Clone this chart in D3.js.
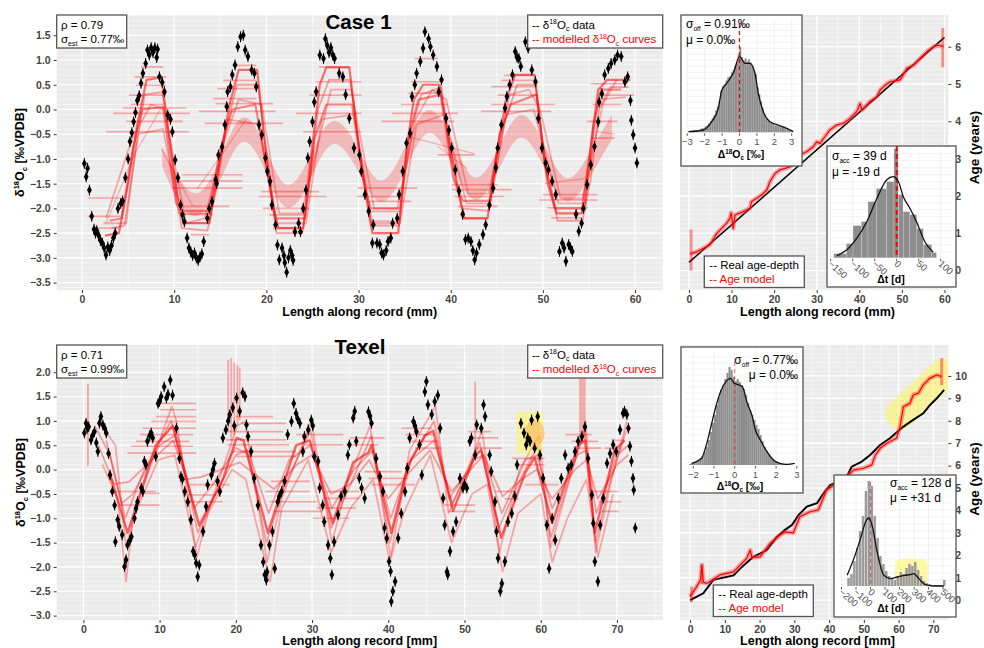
<!DOCTYPE html>
<html><head><meta charset="utf-8">
<script src="https://cdn.jsdelivr.net/npm/d3@7"></script>
<style>body{margin:0;background:#fff}svg{display:block}text{font-family:"Liberation Sans",Arial,sans-serif}</style>
</head><body><svg id="c" width="984" height="648"></svg>
<script>
// ================= DATA =================
// Case 1 : measured d18O (length mm, value permil)
const case1Points = [[0.25,-1.09],[0.45,-1.36],[0.6,-1.19],[0.8,-1.63],[1.05,-2.16],[1.3,-2.42],[1.45,-2.5],[1.6,-2.45],[1.8,-2.55],[2.0,-2.65],[2.2,-2.7],[2.4,-2.8],[2.6,-2.94],[2.8,-2.78],[3.0,-2.85],[3.2,-2.75],[3.4,-2.6],[3.6,-2.5],[3.9,-2.0],[4.2,-1.9],[4.4,-1.85],[4.7,-1.38],[5.0,-1.0],[5.2,-0.65],[5.4,-0.47],[5.6,-0.25],[5.8,-0.06],[6.0,0.18],[6.2,0.28],[6.4,0.53],[6.6,0.73],[6.9,0.93],[7.1,1.2],[7.3,1.1],[7.5,1.25],[7.7,1.15],[7.9,1.25],[8.1,1.05],[8.2,1.22],[8.4,0.66],[8.7,0.55],[8.95,0.36],[9.3,-0.11],[9.6,-0.2],[9.8,-0.45],[10.1,-1.02],[10.4,-1.38],[10.7,-1.93],[10.9,-2.13],[11.1,-2.27],[11.4,-2.6],[11.6,-2.8],[11.8,-2.88],[12.0,-2.95],[12.2,-2.9],[12.4,-3.0],[12.6,-3.05],[12.8,-2.98],[13.0,-2.92],[13.2,-2.67],[13.6,-2.2],[13.8,-2.0],[14.1,-1.86],[14.5,-1.42],[14.6,-1.5],[14.8,-0.92],[15.2,-0.76],[15.5,-0.31],[15.7,0.06],[15.8,0.36],[16.1,0.46],[16.3,0.7],[16.6,0.9],[16.9,1.27],[17.2,1.47],[17.5,1.5],[17.7,1.2],[18.0,1.07],[18.4,0.8],[18.7,0.73],[18.9,0.46],[19.2,-0.31],[19.5,-0.51],[19.9,-0.98],[20.1,-1.25],[20.4,-1.45],[20.6,-1.93],[21.0,-2.33],[21.2,-2.74],[21.4,-3.04],[21.7,-2.8],[21.9,-2.95],[22.0,-3.1],[22.2,-3.29],[22.4,-3.0],[22.6,-2.85],[22.8,-2.95],[22.9,-3.05],[23.1,-2.47],[23.5,-2.3],[23.7,-2.47],[24.0,-2.0],[24.3,-1.63],[24.5,-0.98],[24.7,-0.65],[25.0,-0.25],[25.2,0.15],[25.4,0.36],[25.8,1.1],[26.2,1.03],[26.4,1.43],[26.6,1.3],[26.8,1.15],[27.0,1.25],[27.2,1.1],[27.4,1.03],[27.9,0.73],[28.3,0.66],[28.6,0.3],[29.0,-0.18],[29.5,-0.78],[30.1,-0.92],[30.3,-1.25],[30.7,-1.72],[31.1,-2.06],[31.5,-2.7],[31.6,-2.33],[32.0,-2.7],[32.3,-2.73],[32.5,-2.9],[32.7,-2.94],[33.0,-2.85],[33.2,-2.67],[33.5,-2.6],[33.7,-2.3],[34.2,-2.2],[34.4,-1.72],[34.8,-1.25],[35.2,-0.68],[35.6,-0.48],[35.8,0.26],[36.1,0.5],[36.3,0.73],[36.7,0.97],[37.0,1.24],[37.2,1.57],[37.6,1.43],[37.8,1.27],[38.1,1.1],[38.5,0.87],[38.7,0.36],[39.0,0.6],[39.5,-0.18],[39.8,-0.42],[40.1,-0.78],[40.5,-1.22],[40.9,-1.65],[41.3,-2.12],[41.6,-2.63],[41.9,-2.6],[42.2,-2.67],[42.4,-2.85],[42.6,-3.04],[42.8,-2.9],[43.1,-2.73],[43.5,-2.53],[43.8,-2.33],[44.2,-1.93],[44.6,-1.59],[44.9,-1.18],[45.1,-0.78],[45.5,-0.31],[45.9,0.03],[46.1,0.26],[46.4,0.5],[46.7,0.7],[47.0,1.17],[47.2,1.05],[47.4,1.03],[47.6,0.87],[48.1,1.37],[48.4,1.24],[48.8,0.8],[49.2,0.56],[49.5,-0.18],[49.9,-0.78],[50.3,-1.08],[50.6,-1.22],[51.0,-1.45],[51.4,-1.72],[51.8,-2.87],[52.1,-2.7],[52.3,-2.8],[52.5,-3.07],[52.8,-2.73],[53.0,-2.8],[53.2,-2.87],[53.6,-2.12],[53.9,-2.46],[54.2,-2.3],[54.4,-2.0],[54.8,-1.52],[55.2,-1.12],[55.6,-0.75],[56.0,-0.25],[56.1,0.15],[56.4,0.32],[56.7,0.7],[57.1,0.83],[57.4,0.93],[57.8,1.0],[58.1,1.1],[58.5,1.07],[58.9,0.56],[59.2,0.66],[59.5,0.18],[59.6,-0.22],[59.8,-0.51],[60.0,-0.78],[60.2,-1.08]];

// Case 1 : modelled curves
const case1CurveA = [[2.5,-2.55],[4.0,-2.5],[5.0,-1.5],[6.0,-0.3],[7.0,0.6],[8.6,0.65],[9.3,-0.3],[10.3,-1.7],[11.0,-2.3],[13.8,-2.3],[14.8,-1.2],[16.0,0.1],[17.0,0.8],[19.0,0.8],[19.8,-0.6],[20.8,-2.0],[21.3,-2.4],[24.0,-2.4],[24.8,-1.0],[25.8,0.5],[26.5,0.85],[29.0,0.85],[30.2,-1.0],[31.2,-2.2],[31.5,-2.5],[34.3,-2.5],[35.2,-0.8],[36.0,0.2],[37.0,0.5],[38.8,0.5],[39.8,-0.6],[41.0,-1.8],[41.5,-2.2],[44.0,-2.2],[45.0,-0.9],[46.0,0.2],[47.0,0.7],[49.1,0.7],[50.2,-1.1],[51.5,-2.1],[54.2,-2.1],[55.0,-1.0],[56.0,0.4],[57.0,0.6],[59.5,0.6]];
const case1CurveB = [[3.0,-2.25],[4.3,-2.2],[5.5,-0.8],[6.5,0.0],[8.8,0.05],[10.2,-1.9],[11.0,-2.05],[13.8,-2.05],[15.0,-0.8],[16.3,0.0],[18.8,0.1],[20.3,-1.5],[21.0,-2.2],[24.2,-2.2],[25.2,-0.6],[26.5,0.1],[29.3,0.1],[30.6,-1.5],[31.3,-2.0],[34.5,-2.0],[35.5,-0.5],[36.5,0.2],[38.9,0.3],[40.3,-1.4],[41.3,-1.85],[44.2,-1.85],[45.3,-0.5],[46.5,0.1],[49.3,0.3],[50.5,-1.5],[51.3,-2.0],[54.5,-2.0],[55.5,-0.3],[56.3,0.4],[58.5,0.4]];
const case1CurveC = [[2.3,-2.3],[4.8,-2.3],[6.0,-0.5],[8.8,-0.4],[10.5,-2.1],[13.9,-2.1],[15.8,-0.2],[19.2,-0.3],[21.0,-2.3],[24.3,-2.3],[26.0,-0.2],[29.5,-0.1],[31.5,-2.3],[34.5,-2.3],[36.3,-0.3],[39.3,-0.1],[41.7,-1.9],[44.3,-1.9],[46.0,-0.1],[49.0,0.0],[51.7,-1.9],[54.6,-1.9],[56.0,0.2],[59.0,0.25]];
const case1CurveD = [[2.6,-2.2],[5.4,-0.6],[7.5,0.1],[8.9,0.0],[11.3,-2.3],[13.3,-2.2],[15.5,-0.6],[17.0,0.2],[19.5,0.1],[21.4,-2.1],[23.8,-2.1],[25.5,-0.8],[27.0,0.4],[29.2,0.4],[31.7,-2.0],[34.2,-2.0],[36.2,-0.2],[38.0,0.4],[39.5,0.2],[41.9,-1.7],[44.1,-1.7],[46.4,0.3],[48.5,0.4],[49.7,0.0],[51.9,-1.8],[54.3,-1.8],[56.5,0.1],[58.0,0.6]];
const case1CurveE = [[3.2,-2.4],[4.6,-2.35],[5.6,-1.1],[6.8,0.3],[8.7,0.35],[9.9,-1.2],[10.8,-2.4],[13.6,-2.45],[14.6,-1.6],[15.6,-0.4],[16.8,0.5],[19.1,0.5],[20.1,-1.1],[21.1,-2.5],[23.9,-2.5],[24.6,-1.6],[25.6,0.0],[26.8,0.6],[29.1,0.6],[30.4,-1.2],[31.4,-2.35],[34.4,-2.35],[35.0,-1.4],[35.9,-0.3],[36.8,0.3],[39.0,0.45],[40.0,-1.0],[41.2,-2.0],[44.1,-2.05],[44.8,-1.3],[45.8,-0.3],[47.2,0.5],[49.2,0.5],[50.4,-1.3],[51.6,-2.25],[54.3,-2.25],[55.2,-1.4],[56.1,0.0],[57.3,0.45],[59.3,0.45]];
const case1Faint = [[[8.6,-0.8],[12.0,-1.95]],[[35.4,-0.55],[42.6,-0.9]],[[38.6,-0.75],[41.8,-1.2]],[[50.2,-1.5],[54.5,-1.4]],[[55.8,-0.45],[57.8,-0.5]],[[2.6,-2.3],[5.7,-0.9],[8.5,0.0]],[[12.5,-1.6],[15.2,-0.9],[17.8,-0.2]]];
// shaded ribbon (x, upper, lower)
const case1RibbonX  = [8.7,10.5,12.5,14.5,17.2,19.5,22.0,24.5,27.0,29.7,32.3,35.0,37.5,40.0,42.5,45.0,47.5,50.0,52.5,55.0,57.5];
const case1RibbonHi = [-0.75,-1.45,-1.85,-1.3,0.15,-0.5,-1.85,-1.1,0.05,-0.6,-1.8,-0.8,0.3,-0.5,-1.7,-0.9,0.2,-0.6,-1.7,-0.9,-0.1];
const case1RibbonLo = [-1.15,-1.95,-2.3,-1.75,-0.35,-1.0,-2.3,-1.6,-0.4,-1.1,-2.2,-1.3,-0.15,-1.0,-2.15,-1.35,-0.25,-1.1,-2.15,-1.4,-0.6];
// horizontal uncertainty segments [x1, x2, value]
const case1Segs = [[0.6,4.2,-1.79],[0.6,4.2,-2.16],[1.2,4.0,-2.4],[2.6,11.6,-0.45],[3.4,11.7,-0.08],[4.4,11.3,0.03],[4.8,10.9,-0.24],[5.1,9.1,0.29],[5.7,9.1,0.66],[5.85,9.1,0.49],[6.4,8.8,0.86],[5.3,8.8,0.1],[10.9,17.4,-1.32],[10.2,17.4,-1.45],[9.7,17.4,-1.59],[10.9,16.0,-1.96],[10.9,14.2,-2.12],[11.1,13.8,-2.29],[11.8,13.8,-2.53],[13.3,21.8,-0.28],[12.7,21.0,-0.04],[14.5,20.7,0.12],[14.2,18.9,0.22],[14.7,18.9,0.42],[15.3,18.9,0.59],[16.3,18.9,0.89],[19.2,26.5,-1.76],[19.4,25.7,-1.66],[19.6,24.7,-2.0],[20.3,24.3,-2.13],[20.7,23.2,-2.4],[23.2,30.3,-0.08],[24.0,30.3,-0.45],[24.7,30.3,0.29],[25.4,30.3,0.56],[25.7,29.0,0.86],[29.9,36.4,-1.59],[29.9,34.6,-1.76],[31.0,35.7,-1.86],[31.4,34.6,-2.06],[31.4,34.3,-2.26],[32.5,40.4,-0.24],[33.6,40.8,-0.08],[34.6,39.7,0.1],[35.4,39.0,0.33],[35.7,39.0,0.56],[36.1,38.6,1.03],[38.6,42.6,-0.92],[40.1,45.1,-1.52],[40.1,46.6,-1.62],[40.4,45.8,-1.76],[40.8,45.1,-1.96],[41.2,44.0,-2.19],[43.3,50.9,-0.04],[44.4,51.3,0.1],[45.1,49.4,0.29],[44.4,49.4,0.46],[45.5,49.1,0.59],[45.8,49.1,0.69],[49.6,55.9,-1.83],[50.0,55.9,-1.72],[50.5,54.9,-1.99],[50.9,54.2,-2.19],[55.2,59.2,0.52],[55.9,59.9,0.29],[55.4,58.5,0.1],[54.8,58.1,-0.24],[55.2,57.8,-0.58]];

// Texel : measured d18O
const texelPoints = [[0.13,0.75],[0.35,0.95],[0.5,0.85],[0.7,0.88],[1.0,0.61],[1.2,0.7],[1.45,0.78],[1.7,0.55],[1.9,0.37],[2.1,0.95],[2.3,1.09],[2.55,0.92],[2.8,0.85],[3.0,0.75],[3.3,0.33],[3.5,-0.11],[3.8,-0.45],[4.1,-0.73],[4.2,-1.48],[4.5,-1.03],[4.7,-1.17],[5.1,-1.34],[5.4,-1.99],[5.6,-1.85],[5.8,-1.55],[6.1,-1.45],[6.3,-1.38],[6.7,-1.0],[6.9,-0.8],[7.1,-0.66],[7.6,-0.38],[7.8,-0.45],[8.0,0.17],[8.2,0.1],[8.4,0.58],[8.7,0.7],[8.9,0.75],[9.1,0.65],[9.5,0.27],[9.8,1.36],[10.0,1.4],[10.2,1.5],[10.6,1.7],[10.9,1.47],[11.1,1.55],[11.4,1.84],[11.7,1.53],[12.2,0.85],[12.6,0.23],[12.8,-0.14],[13.0,-0.2],[13.3,-0.45],[13.7,-0.66],[14.1,-1.03],[14.4,-1.68],[14.6,-1.75],[14.8,-1.92],[15.0,-2.2],[15.2,-1.96],[15.7,-1.27],[16.1,-0.76],[16.3,-0.31],[16.8,-0.11],[17.0,0.0],[17.2,0.13],[17.6,-0.24],[17.9,-0.45],[18.3,0.65],[18.7,0.82],[19.0,1.0],[19.2,1.13],[19.6,1.27],[19.8,0.9],[20.1,1.47],[20.5,1.2],[20.9,1.58],[21.2,1.5],[21.4,0.92],[21.6,0.68],[22.0,0.37],[22.4,-0.18],[22.9,-0.73],[23.3,-1.55],[23.6,-1.9],[23.8,-2.16],[24.0,-2.27],[24.1,-2.1],[24.4,-1.55],[24.8,-1.27],[25.1,-2.03],[25.5,-0.66],[25.7,-0.55],[26.0,-0.45],[26.4,-0.24],[26.8,0.72],[27.3,0.99],[27.6,1.36],[27.9,1.16],[28.1,1.05],[28.4,0.95],[28.8,0.37],[29.0,0.68],[29.5,0.82],[29.9,1.02],[30.1,0.9],[30.3,0.27],[30.8,0.17],[31.0,-0.38],[31.4,-0.73],[31.6,-1.07],[32.1,-1.55],[32.4,-1.82],[32.6,-2.16],[32.9,-1.48],[33.4,-0.93],[33.8,-0.55],[34.3,-0.45],[34.7,0.3],[34.9,0.51],[35.4,1.06],[35.6,1.2],[35.8,0.58],[36.2,-0.18],[36.5,-0.38],[36.9,-0.59],[37.4,1.19],[37.6,1.1],[37.8,0.95],[38.4,0.23],[38.9,-0.14],[39.3,-0.45],[39.5,-1.2],[39.8,-1.41],[40.1,-1.89],[40.3,-2.09],[40.4,-2.71],[40.6,-2.5],[40.9,-2.3],[41.3,-1.41],[41.7,-0.9],[42.2,-0.45],[42.5,0.03],[42.8,0.65],[43.3,0.99],[43.5,0.9],[43.7,0.78],[44.1,0.51],[44.4,-0.11],[44.8,1.6],[45.0,1.81],[45.2,1.33],[45.7,1.13],[46.1,1.4],[46.5,1.53],[46.8,0.85],[47.2,-0.59],[47.4,-1.14],[47.7,-2.1],[47.8,-2.16],[48.1,-1.68],[48.5,-1.27],[48.9,-1.07],[49.4,-0.18],[49.8,-0.38],[50.0,-0.3],[50.3,-0.38],[50.7,0.58],[50.9,0.65],[51.4,0.3],[51.6,0.92],[52.2,0.85],[52.5,1.33],[52.7,1.09],[53.3,0.3],[53.5,-0.04],[54.0,-0.66],[54.2,-1.27],[54.4,-1.82],[54.7,-2.5],[54.9,-2.34],[55.3,-1.89],[55.7,-1.07],[56.2,-0.9],[56.6,-0.55],[56.9,0.1],[57.4,0.95],[57.8,0.75],[58.1,0.51],[58.3,0.65],[58.6,0.58],[58.8,1.02],[59.2,0.44],[59.6,1.09],[59.9,0.3],[60.3,-0.18],[60.8,-1.14],[61.1,-2.03],[61.5,-1.0],[61.9,-1.45],[62.3,-0.59],[62.7,-0.18],[63.2,0.3],[63.6,0.03],[64.0,0.1],[64.5,0.37],[64.9,0.58],[65.4,0.68],[65.8,0.88],[66.2,0.23],[66.7,-0.52],[66.9,-1.1],[67.1,-1.89],[67.5,-2.3],[67.8,-1.14],[68.2,-0.59],[68.7,0.13],[69.1,0.33],[69.5,0.51],[69.9,0.37],[70.4,0.82],[70.8,1.16],[71.0,1.2],[71.3,1.13],[71.5,0.85],[71.7,0.48],[71.9,0.17],[72.1,-0.18],[72.2,-0.42],[72.4,-1.2]];
// Texel : modelled curves
const texelCurveMain = [[3.4,-0.05],[5.8,-1.3],[9.5,0.5],[11.7,0.9],[15.2,-1.15],[18.3,-0.2],[20.1,0.65],[21.0,0.6],[24.2,-1.3],[27.9,0.5],[29.7,0.6],[32.7,-1.1],[35.4,0.15],[37.4,0.35],[37.8,0.5],[40.4,-1.3],[42.6,0.1],[44.8,0.7],[45.9,0.8],[48.5,-0.85],[51.4,0.3],[52.2,0.4],[54.8,-1.4],[58.0,-0.05],[59.2,0.25],[61.5,-1.1],[64.9,0.5],[65.8,0.6],[67.1,-1.3],[69.7,0.4],[71.0,0.6]];
const texelCurveFlat = [[2.0,0.5],[4.0,-0.3],[6.0,-0.25],[9.0,0.2],[11.8,0.6],[13.5,-0.2],[15.5,-0.15],[18.0,0.0],[20.5,0.15],[22.5,-0.1],[25.0,-0.4],[28.0,0.1],[30.0,0.3],[32.5,-0.5],[35.0,-0.3],[37.5,0.2],[40.0,-0.6],[42.5,-0.1],[45.5,0.4],[48.3,-0.45],[50.8,0.0],[52.5,0.3],[55.0,-0.55],[57.5,-0.2],[59.5,0.0],[61.5,-0.6],[64.5,0.0],[66.0,0.2],[67.5,-0.6],[70.0,0.1],[71.5,0.3]];
const texelCurveMid = [[1.5,0.9],[3.5,0.3],[5.5,-1.0],[8.0,0.0],[11.5,1.0],[12.5,0.6],[15.0,-1.3],[17.0,-0.6],[20.0,0.3],[21.5,0.4],[24.0,-1.5],[26.5,-0.3],[29.8,0.8],[32.5,-1.2],[34.5,-0.5],[37.8,0.7],[40.2,-1.5],[43.0,0.2],[46.0,1.0],[48.0,-0.6],[50.5,0.0],[52.0,0.55],[54.5,-1.2],[57.0,-0.3],[59.6,0.5],[61.3,-1.4],[63.5,-0.3],[65.8,0.8],[67.2,-1.5],[69.0,-0.3],[71.2,0.8]];
const texelCurveMid2 = [[3.0,0.6],[5.0,-0.7],[6.5,-0.5],[10.0,0.5],[12.0,0.7],[14.5,-0.8],[17.0,-0.3],[20.0,0.45],[21.8,0.3],[24.3,-0.9],[27.0,0.2],[29.8,0.5],[32.6,-0.8],[35.5,0.0],[38.0,0.4],[40.3,-1.0],[43.0,0.2],[46.0,0.6],[48.4,-0.7],[51.2,0.2],[52.5,0.3],[54.9,-0.9],[58.0,0.2],[59.5,0.3],[61.5,-0.8],[64.8,0.3],[66.0,0.4],[67.3,-0.9],[70.0,0.3],[71.5,0.5]];
const texelCurveHigh = [[2.0,1.0],[4.2,0.5],[5.6,-1.6],[7.5,-0.5],[11.6,1.3],[12.2,1.0],[14.9,-1.8],[16.5,-0.8],[20.2,0.9],[21.2,1.0],[24.1,-1.9],[26.0,-0.6],[29.9,1.0],[32.6,-1.5],[34.8,-0.2],[37.6,0.9],[40.3,-1.8],[42.8,0.4],[46.2,1.3],[47.9,-0.9],[50.9,0.2],[52.3,0.8],[54.6,-1.7],[57.2,0.0],[59.8,0.7],[61.3,-1.6],[63.8,-0.2],[65.9,1.0],[67.2,-1.7],[69.3,-0.2],[71.3,1.0]];
const texelCurveLow = [[2.5,0.1],[4.5,-0.6],[5.6,-2.3],[6.5,-1.0],[9.8,0.2],[12.0,0.3],[14.7,-1.6],[16.0,-1.0],[19.5,0.0],[21.3,-0.2],[24.5,-2.3],[26.0,-0.8],[29.5,0.2],[32.5,-1.7],[35.0,-0.8],[38.0,-0.2],[40.2,-1.9],[42.0,-0.9],[45.5,0.3],[48.3,-1.5],[51.0,-0.5],[53.0,-0.3],[55.0,-2.1],[57.0,-0.9],[60.0,-0.5],[61.5,-1.9],[63.5,-1.0],[66.0,-0.2],[67.5,-1.8],[69.5,-0.5]];
const texelSegs = [[5.8,14.8,0.34],[6.3,14.4,0.48],[6.9,13.9,0.58],[7.4,14.4,0.72],[7.8,14.8,0.85],[8.9,14.8,0.99],[9.5,14.8,1.09],[10.0,14.8,1.23],[10.2,14.8,1.36],[7.4,10.0,-0.49],[3.4,9.5,-0.45],[4.7,10.0,-0.73],[18.3,26.2,0.78],[18.7,26.6,0.61],[18.9,27.0,0.51],[19.6,27.9,0.37],[20.0,27.9,0.27],[20.7,26.6,0.95],[20.0,24.9,1.09],[13.0,17.4,-0.52],[13.5,18.3,-0.66],[13.9,19.2,-0.31],[23.9,29.7,-0.45],[24.4,30.6,-0.66],[24.9,31.4,-0.86],[24.6,29.7,-0.24],[30.1,34.9,-1.0],[30.6,35.8,-0.79],[31.4,36.2,-0.59],[31.9,36.2,-0.45],[27.9,34.1,0.72],[28.8,34.1,0.51],[34.5,38.7,0.51],[35.0,39.5,0.65],[36.9,41.7,-0.04],[37.4,42.6,-0.18],[37.8,43.5,-0.31],[41.7,45.7,0.85],[42.2,46.1,0.72],[42.8,46.5,0.58],[43.5,47.0,0.44],[47.2,51.4,-0.73],[47.9,51.4,-0.86],[50.5,53.5,0.78],[50.9,54.4,0.65],[51.4,54.9,0.44],[54.0,56.6,-0.45],[55.3,57.1,-0.6],[56.2,60.5,0.23],[57.1,60.5,0.1],[57.9,62.3,-0.31],[63.2,66.7,0.72],[64.0,67.5,0.58],[64.5,67.9,0.44],[66.7,70.2,-0.45],[67.6,70.6,-0.66],[68.0,70.2,-0.86],[68.4,70.6,0.44],[69.3,71.0,0.6]];
const texelSpikes = [[0.6,0.08,1.76],[19.0,0.8,2.25],[19.4,0.6,2.29],[19.8,0.7,2.2],[20.2,0.9,2.15],[20.5,1.0,2.1],[51.4,0.3,1.81]];
const texelBlock = [65.0,65.9,0.6,1.9];
const texelHighlight = [56.8,60.3,0.33,1.19];

// Age-depth models
const case1RealAge = [[0,0.22],[60,6.25]];
const case1AgeModel = [[0.3,0.45],[2.0,0.51],[4.9,0.69],[6.5,0.99],[8.85,1.27],[9.6,1.4],[9.9,1.55],[10.4,1.13],[10.8,1.49],[12.8,1.58],[14.3,1.67],[14.7,1.85],[17.1,2.03],[18.3,2.16],[19.0,2.38],[20.2,2.6],[21.4,2.7],[23.7,2.78],[24.9,3.0],[26.1,3.1],[27.7,3.19],[29.2,3.32],[30.0,3.45],[30.8,3.41],[31.6,3.54],[33.1,3.77],[34.7,3.9],[36.3,3.95],[37.8,4.08],[39.4,4.26],[40.2,4.48],[40.6,4.3],[42.5,4.53],[44.1,4.66],[44.9,4.84],[46.1,4.97],[47.2,5.06],[49.6,5.11],[51.2,5.42],[52.8,5.51],[54.3,5.69],[55.9,5.87],[57.4,6.0],[58.6,6.04],[59.8,6.0]];
const case1Fans = [[0.5,0.0,1.1],[59.6,5.45,6.5]];
const texelRealAge = [[0,0],[3.8,0.3],[6.7,0.9],[12.5,1.1],[14.9,1.48],[18.2,1.93],[22.1,2.23],[24.9,2.8],[27.3,3.13],[29.3,3.35],[31.2,3.79],[33.6,4.17],[36.5,4.32],[38.4,4.76],[40.3,5.13],[42.7,5.28],[45.1,5.5],[46.5,5.95],[49.4,6.18],[51.8,6.47],[54.7,6.92],[57.5,7.22],[61.4,7.74],[64.2,8.04],[67.1,8.33],[69.0,8.7],[71.0,9.0],[73.1,9.38]];
const texelAgeModel = [[0,0.15],[1.9,0.6],[3.0,0.9],[3.4,1.56],[3.8,0.8],[4.8,0.74],[8.6,1.12],[12.5,1.26],[16.3,1.86],[17.3,2.23],[17.8,1.9],[20.1,1.93],[23.0,2.52],[25.9,2.9],[27.3,3.04],[29.7,3.0],[31.6,3.72],[34.5,3.94],[36.9,4.02],[39.3,4.91],[42.2,5.21],[45.1,5.5],[47.0,5.8],[49.9,5.88],[52.3,6.03],[53.3,6.47],[54.7,6.77],[56.6,7.0],[59.4,7.22],[60.4,7.74],[61.4,8.63],[63.3,8.78],[64.2,9.15],[65.7,9.23],[67.1,9.6],[69.0,9.9],[71.0,10.04],[72.4,9.97]];
const texelFans = [[0.4,-0.1,0.6],[3.4,0.7,1.6],[72.4,9.6,10.8]];
const texelAgeHighlight = [[60.5,8.3],[73,10.1]];

// Histograms
const c1OffStart = -3.0, c1OffBin = 0.1;
const c1OffCounts = [0,1,1,1,2,2,2,3,4,4,6,7,9,11,14,17,22,26,32,41,46,48,52,55,56,60,62,66,70,78,85,75,72,74,71,73,70,66,62,58,45,38,31,24,18,14,12,10,9,8,7,7,7,6,6,5,4,3,2,1];
const c1OffDensity = [[-2.94,0.6],[-2.08,2.3],[-1.6,10.6],[-1.22,24],[-1.02,42],[-0.74,49],[-0.36,59],[0,75.6],[0.32,69],[0.6,69],[0.89,59],[1.08,39],[1.37,20.6],[1.75,10.6],[2.23,7.3],[2.71,4],[3.09,0.6]];
const c1AccEdges = [-143,-114,-99,-80,-65,-46,-23,-6,4,15,30,46,61,80,91];
const c1AccCounts = [4,14,32,36,56,69,76,109,63,46,43,29,13,5];
const c1AccDensity = [[-136,2],[-114,7.7],[-91,19.4],[-68,36],[-45,59.4],[-23,77.7],[-8,81],[4,76],[15,61],[30,49.4],[45,36],[64,16],[83,5.4]];
const txOffStart = -2.3, txOffBin = 0.1;
const txOffCounts = [0,1,2,3,4,5,7,9,13,18,25,33,42,50,60,68,75,80,86,92,98,95,88,84,86,83,80,76,70,62,55,50,45,40,36,30,24,18,14,11,8,6,4,3,2,2,1,1,1,1,0,0];
const txOffDensity = [[-2.08,1.7],[-1.6,6.7],[-1.37,20],[-1.13,40],[-0.89,60],[-0.65,75],[-0.42,83.3],[-0.21,86.7],[-0.02,81.7],[0.21,80],[0.37,78.3],[0.61,61.7],[0.85,48.3],[1.0,35],[1.24,25],[1.56,13.3],[1.87,5],[2.19,1.7],[2.51,0.7],[2.9,1.7]];
const txAccStart = -160, txAccBin = 20;
const txAccCounts = [8,12,25,38,55,70,95,105,100,70,48,30,22,15,10,8,6,10,14,12,18,22,20,24,16,10,5,3,2,1,1,1,1,6];
const txAccDensity = [[-161,10.7],[-115,27.4],[-69,47.4],[-34,64],[-12,68],[12,60],[46,34],[92,10.7],[138,7.4],[184,9],[230,10.7],[276,11.4],[299,12.4],[333,7.4],[379,1.3],[437,0],[506,0]];
const txAccHighlight = [170,395];

// tick values
const c1XTicks = [0,10,20,30,40,50,60], c1YTicks = [-3.5,-3,-2.5,-2,-1.5,-1,-0.5,0,0.5,1,1.5];
const txXTicks = [0,10,20,30,40,50,60,70], txYTicks = [-3,-2.5,-2,-1.5,-1,-0.5,0,0.5,1,1.5,2];
const c1AgeTicks = [0,1,2,3,4,5,6], txAgeTicks = [0,1,2,3,4,5,6,7,8,9,10];

// ================= DRAWING =================
const svg = d3.select("#c");
const defs = svg.append("defs");
let clipN = 0;
const RED = "#ff0000";

function rich(g, x, y, parts, size, opts = {}) {
  const t = g.append("text").attr("x", x).attr("y", y).attr("font-size", size)
    .attr("font-weight", opts.weight || "normal").attr("fill", opts.fill || "#000")
    .attr("text-anchor", opts.anchor || "start");
  if (opts.rotate) t.attr("transform", `rotate(${opts.rotate},${x},${y})`);
  let cur = 0;
  parts.forEach(p => {
    const [s, k] = typeof p === "string" ? [p, "n"] : p;
    const target = k === "sup" ? -size * 0.38 : k === "sub" ? size * 0.22 : 0;
    const ts = t.append("tspan").text(s).attr("dy", target - cur);
    if (k !== "n") ts.attr("font-size", size * (opts.small || 0.6));
    cur = target;
  });
  return t;
}

function panel(c) {
  const x = d3.scaleLinear().domain(c.xd).range([c.x0, c.x1]);
  const y = d3.scaleLinear().domain(c.yd).range([c.y1, c.y0]);
  const g = svg.append("g");
  const id = "clip" + (clipN++);
  defs.append("clipPath").attr("id", id).append("rect")
    .attr("x", c.x0).attr("y", c.y0).attr("width", c.x1 - c.x0).attr("height", c.y1 - c.y0);
  g.append("rect").attr("x", c.x0).attr("y", c.y0).attr("width", c.x1 - c.x0).attr("height", c.y1 - c.y0).attr("fill", "#ebebeb");
  const grid = g.append("g").attr("clip-path", `url(#${id})`);
  d3.range(c.yd[0] - c.yd[0] % c.dense, c.yd[1], c.dense).forEach(v =>
    grid.append("line").attr("x1", c.x0).attr("x2", c.x1).attr("y1", y(v)).attr("y2", y(v)).attr("stroke", "#fff").attr("stroke-width", 0.6).attr("opacity", 0.75));
  c.xMinor.forEach(v => grid.append("line").attr("x1", x(v)).attr("x2", x(v)).attr("y1", c.y0).attr("y2", c.y1).attr("stroke", "#fff").attr("stroke-width", 0.6));
  c.xTicks.forEach(v => grid.append("line").attr("x1", x(v)).attr("x2", x(v)).attr("y1", c.y0).attr("y2", c.y1).attr("stroke", "#fff").attr("stroke-width", 1.2));
  c.yTicks.forEach(v => grid.append("line").attr("x1", c.x0).attr("x2", c.x1).attr("y1", y(v)).attr("y2", y(v)).attr("stroke", "#fff").attr("stroke-width", 1.2));
  const plot = g.append("g").attr("clip-path", `url(#${id})`);
  const ax = g.append("g").attr("transform", `translate(0,${c.y1})`)
    .call(d3.axisBottom(x).tickValues(c.xTicks).tickSize(3).tickPadding(3).tickFormat(d3.format("d")));
  const ay = c.yRight
    ? g.append("g").attr("transform", `translate(${c.x1},0)`).call(d3.axisRight(y).tickValues(c.yTicks).tickSize(3).tickPadding(4).tickFormat(d3.format("d")))
    : g.append("g").attr("transform", `translate(${c.x0},0)`).call(d3.axisLeft(y).tickValues(c.yTicks).tickSize(3).tickPadding(3).tickFormat(d3.format(".1f")));
  [ax, ay].forEach(a => {
    a.attr("font-family", null).attr("font-size", null);
    a.select(".domain").remove();
    a.selectAll(".tick line").attr("stroke", "#333");
    a.selectAll(".tick text").attr("fill", "#444").attr("font-weight", "bold").attr("font-size", 10.5);
  });
  return { x, y, g, plot };
}

function drawPoints(p, data) {
  const gp = p.plot.append("g");
  data.forEach(([a, v]) => {
    const px = p.x(a), py = p.y(v);
    gp.append("line").attr("x1", px).attr("x2", px).attr("y1", p.y(v + 0.11)).attr("y2", p.y(v - 0.11)).attr("stroke", "#000").attr("stroke-width", 1);
    gp.append("path").attr("d", `M${px},${py - 4.5}L${px + 2.4},${py}L${px},${py + 4.5}L${px - 2.4},${py}Z`).attr("fill", "#000");
  });
}
function drawCurve(p, data, op, w) {
  p.plot.append("path").datum(data).attr("d", d3.line().x(d => p.x(d[0])).y(d => p.y(d[1])))
    .attr("fill", "none").attr("stroke", RED).attr("stroke-opacity", op).attr("stroke-width", w).attr("stroke-linejoin", "round");
}
function drawSegs(p, segs, op) {
  segs.forEach(([a, b, v]) => p.plot.append("line").attr("x1", p.x(a)).attr("x2", p.x(b)).attr("y1", p.y(v)).attr("y2", p.y(v))
    .attr("stroke", RED).attr("stroke-opacity", op).attr("stroke-width", 1.7));
}
function box(g, x, y, w, h) {
  g.append("rect").attr("x", x).attr("y", y).attr("width", w).attr("height", h).attr("fill", "#fff").attr("stroke", "#555").attr("stroke-width", 1.3);
}

// ---------- Case 1 main ----------
const P1 = panel({ x0: 56.7, x1: 662.7, y0: 15, y1: 290, xd: [-2.75, 63.0], yd: [-3.65, 1.91], xTicks: c1XTicks, xMinor: [5,15,25,35,45,55], yTicks: c1YTicks, dense: 0.1 });
const ribbonData = case1RibbonX.map((v, i) => [v, case1RibbonHi[i], case1RibbonLo[i]]);
P1.plot.append("path").datum(ribbonData)
  .attr("d", d3.area().curve(d3.curveBasis).x(d => P1.x(d[0])).y0(d => P1.y(d[2])).y1(d => P1.y(d[1])))
  .attr("fill", RED).attr("fill-opacity", 0.22);
drawSegs(P1, case1Segs, 0.3);
case1Faint.forEach(c => drawCurve(P1, c, 0.25, 1.3));
drawCurve(P1, case1CurveC, 0.3, 1.8);
drawCurve(P1, case1CurveD, 0.3, 1.8);
drawCurve(P1, case1CurveE, 0.35, 1.8);
drawCurve(P1, case1CurveB, 0.45, 2.2);
drawCurve(P1, case1CurveA, 0.55, 2.2);
drawPoints(P1, case1Points);

// ---------- Texel main ----------
const P2 = panel({ x0: 56.7, x1: 662.7, y0: 345, y1: 620, xd: [-3.5, 76.0], yd: [-3.09, 2.56], xTicks: txXTicks, xMinor: [5,15,25,35,45,55,65,75], yTicks: txYTicks, dense: 0.1 });
texelSpikes.forEach(([a, lo, hi]) => P2.plot.append("line").attr("x1", P2.x(a)).attr("x2", P2.x(a)).attr("y1", P2.y(lo)).attr("y2", P2.y(hi)).attr("stroke", RED).attr("stroke-opacity", 0.3).attr("stroke-width", 1.8));
P2.plot.append("rect").attr("x", P2.x(texelBlock[0])).attr("width", P2.x(texelBlock[1]) - P2.x(texelBlock[0]))
  .attr("y", P2.y(texelBlock[3])).attr("height", P2.y(texelBlock[2]) - P2.y(texelBlock[3])).attr("fill", RED).attr("fill-opacity", 0.28);
drawSegs(P2, texelSegs, 0.3);
drawCurve(P2, texelCurveLow, 0.3, 1.8);
drawCurve(P2, texelCurveHigh, 0.3, 1.8);
drawCurve(P2, texelCurveFlat, 0.35, 1.8);
drawCurve(P2, texelCurveMid2, 0.35, 1.8);
drawCurve(P2, texelCurveMid, 0.35, 1.8);
drawCurve(P2, texelCurveMain, 0.6, 2.4);
P2.plot.append("rect").attr("x", P2.x(texelHighlight[0])).attr("width", P2.x(texelHighlight[1]) - P2.x(texelHighlight[0]))
  .attr("y", P2.y(texelHighlight[3])).attr("height", P2.y(texelHighlight[2]) - P2.y(texelHighlight[3]))
  .attr("fill", "#fff35a").attr("fill-opacity", 0.5);
P2.plot.append("ellipse").attr("cx", P2.x(59.2)).attr("cy", P2.y(0.75)).attr("rx", 10).attr("ry", 13).attr("fill", "#ff8c1a").attr("fill-opacity", 0.35);
drawPoints(P2, texelPoints);

// titles & boxes main panels
[[P1, 15, "0.79", "0.77"], [P2, 345, "0.71", "0.99"]].forEach(([P, top, rho, sig]) => {
  box(P.g, 56.7, top, 70, 33);
  rich(P.g, 61, top + 13.5, ["ρ = " + rho], 11.5);
  rich(P.g, 61, top + 28, ["σ", ["est", "sub"], " = " + sig + "‰"], 11.5);
  box(P.g, 527.7, top, 135, 33);
  rich(P.g, 532, top + 13.5, ["-- δ", ["18", "sup"], "O", ["c", "sub"], " data"], 11.5);
  rich(P.g, 532, top + 28, ["-- modelled δ", ["18", "sup"], "O", ["c", "sub"], " curves"], 11.5, { fill: RED });
});
rich(svg, 358.5, 29, ["Case 1"], 20.5, { weight: "bold", anchor: "middle" });
rich(svg, 360, 354, ["Texel"], 20.5, { weight: "bold", anchor: "middle" });
rich(svg, 24, 152.5, ["δ", ["18", "sup"], "O", ["c", "sub"], " [‰VPDB]"], 12.5, { weight: "bold", anchor: "middle", rotate: -90 });
rich(svg, 25, 482.5, ["δ", ["18", "sup"], "O", ["c", "sub"], " [‰VPDB]"], 12.5, { weight: "bold", anchor: "middle", rotate: -90 });
rich(svg, 359.7, 316, ["Length along record (mm)"], 12.5, { weight: "bold", anchor: "middle" });
rich(svg, 359.7, 645, ["Length along record [mm]"], 12.5, { weight: "bold", anchor: "middle" });

// ---------- Age panels ----------
function agePanel(c, real, model, fans, realW) {
  const P = panel(c);
  const ln = d3.line().x(d => P.x(d[0])).y(d => P.y(d[1]));
  if (c.hl) P.plot.append("path").datum(c.hl).attr("d", ln).attr("stroke", "#fff35a").attr("stroke-opacity", 0.55).attr("stroke-width", 30).attr("stroke-linecap", "round").attr("fill", "none");
  P.plot.append("path").datum(real).attr("d", ln).attr("fill", "none").attr("stroke", "#000").attr("stroke-width", realW);
  fans.forEach(([a, lo, hi]) => P.plot.append("line").attr("x1", P.x(a)).attr("x2", P.x(a)).attr("y1", P.y(lo)).attr("y2", P.y(hi)).attr("stroke", RED).attr("stroke-opacity", 0.4).attr("stroke-width", 3));
  P.plot.append("path").datum(model).attr("d", ln).attr("fill", "none").attr("stroke", "#ff4040").attr("stroke-opacity", 0.45).attr("stroke-width", 4.5).attr("stroke-linejoin", "round");
  P.plot.append("path").datum(model).attr("d", ln).attr("fill", "none").attr("stroke", RED).attr("stroke-width", 1.2).attr("stroke-linejoin", "round");
  return P;
}
agePanel({ x0: 680, x1: 948.3, y0: 15, y1: 290, xd: [-2.1, 60.9], yd: [-0.52, 6.85], xTicks: c1XTicks, xMinor: [5,15,25,35,45,55], yTicks: c1AgeTicks, yRight: true, dense: 0.125 }, case1RealAge, case1AgeModel, case1Fans, 1.5);
agePanel({ x0: 680, x1: 948.3, y0: 345, y1: 620, xd: [-2.9, 74.3], yd: [-0.89, 11.38], xTicks: txXTicks, xMinor: [5,15,25,35,45,55,65], yTicks: txAgeTicks, yRight: true, dense: 0.2, hl: texelAgeHighlight }, texelRealAge, texelAgeModel, texelFans, 2);
rich(svg, 817.5, 316, ["Length along record (mm)"], 12.5, { weight: "bold", anchor: "middle" });
rich(svg, 817.5, 645, ["Length along record [mm]"], 12.5, { weight: "bold", anchor: "middle" });
rich(svg, 979, 147.5, ["Age (years)"], 13.5, { weight: "bold", anchor: "middle", rotate: -90 });
rich(svg, 979, 479, ["Age (years)"], 13.5, { weight: "bold", anchor: "middle", rotate: -90 });
[[704.3, 256], [713.3, 585]].forEach(([lx, ly]) => {
  box(svg, lx, ly, 100, 31.5);
  rich(svg, lx + 5, ly + 13, ["-- Real age-depth"], 11.5);
  rich(svg, lx + 5, ly + 27, ["-- Age model"], 11.5, { fill: RED });
});

// ---------- Insets ----------
function inset(c) {
  const g = svg.append("g");
  box(g, c.bx, c.by, c.bw, c.bh);
  const x = d3.scaleLinear().domain(c.xd).range(c.xr);
  const y = d3.scaleLinear().domain([0, 100]).range([c.base, c.base - 100]);
  for (let v = c.base - 6; v > c.by + 4; v -= c.gridStep) g.append("line").attr("x1", c.bx + 4).attr("x2", c.bx + c.bw - 4).attr("y1", v).attr("y2", v).attr("stroke", "#ececec").attr("stroke-width", 0.7);
  c.xTicks.forEach(t => g.append("line").attr("x1", x(t)).attr("x2", x(t)).attr("y1", c.by + 4).attr("y2", c.base).attr("stroke", "#f0f0f0").attr("stroke-width", 1));
  if (c.hl) g.append("rect").attr("x", x(c.hl[0])).attr("width", x(c.hl[1]) - x(c.hl[0])).attr("y", c.base - 27).attr("height", 27).attr("rx", 6).attr("fill", "#fff35a").attr("fill-opacity", 0.55);
  c.bins.forEach(([a, b, n]) => g.append("rect").attr("x", x(a)).attr("width", Math.max(0.5, x(b) - x(a) - c.gap)).attr("y", y(n)).attr("height", c.base - y(n)).attr("fill", c.barFill));
  g.append("line").attr("x1", x(c.ref)).attr("x2", x(c.ref)).attr("y1", c.refTop).attr("y2", c.base).attr("stroke", RED).attr("stroke-width", c.refW).attr("stroke-dasharray", c.refDash).attr("stroke-opacity", c.refOp || 1);
  g.append("path").datum(c.density).attr("d", d3.line().curve(d3.curveMonotoneX).x(d => x(d[0])).y(d => y(d[1]))).attr("fill", "none").attr("stroke", "#111").attr("stroke-width", 1.3);
  c.xTicks.forEach(t => {
    g.append("line").attr("x1", x(t)).attr("x2", x(t)).attr("y1", c.base + 1).attr("y2", c.base + 3.5).attr("stroke", "#555");
    const lab = (t < 0 ? "\u2212" + Math.abs(t) : "" + t);
    if (c.rot) g.append("text").attr("x", x(t) - 3).attr("y", c.base + 7).attr("font-size", 9.5).attr("fill", "#555").attr("transform", `rotate(42,${x(t) - 3},${c.base + 7})`).text(lab);
    else g.append("text").attr("x", x(t)).attr("y", c.base + 13).attr("font-size", 9.5).attr("fill", "#555").attr("text-anchor", "middle").text(lab);
  });
  if (c.delta18) rich(g, c.labX, c.labY, ["Δ", ["18", "sup"], "O", ["c", "sub"], " [‰]"], 10.5, { weight: "bold", anchor: "middle" });
  else rich(g, c.labX, c.labY, ["Δt [d]"], 10.5, { weight: "bold", anchor: "middle" });
  c.stats.forEach(s => rich(g, s.x, s.y, s.parts, 12, { anchor: s.anchor || "start", small: 0.55 }));
}
const binsFrom = (start, w, counts) => counts.map((n, i) => [start + i * w, start + (i + 1) * w, n]);
const binsEdges = (edges, counts) => counts.map((n, i) => [edges[i], edges[i + 1], n]);

inset({ bx: 681, by: 15, bw: 121, bh: 151, xd: [0, 1], xr: [739.5, 756.9], base: 132.3, gridStep: 6,
  xTicks: [-3,-2,-1,0,1,2,3], bins: binsFrom(c1OffStart, c1OffBin, c1OffCounts), gap: 0, barFill: "#8d8d8d",
  density: c1OffDensity, ref: 0, refTop: 24, refW: 1.2, refDash: "4,3", delta18: true, labX: 741, labY: 158,
  stats: [{ x: 686, y: 28, parts: ["σ", ["off", "sub"], " = 0.91‰"] }, { x: 686, y: 44, parts: ["μ = 0.0‰"] }] });
inset({ bx: 827, by: 146, bw: 129, bh: 141, xd: [0, 100], xr: [896.7, 940.7], base: 257.7, gridStep: 7,
  xTicks: [-150,-100,-50,0,50,100], bins: binsEdges(c1AccEdges, c1AccCounts), gap: 0.3, barFill: "#8d8d8d",
  density: c1AccDensity, ref: 0, refTop: 146, refW: 2, refDash: "5,3", rot: true, labX: 891, labY: 283,
  stats: [{ x: 832, y: 160, parts: ["σ", ["acc", "sub"], " = 39 d"] }, { x: 832, y: 176, parts: ["μ = -19 d"] }] });
inset({ bx: 681, by: 347, bw: 122, bh: 146, xd: [0, 1], xr: [734.7, 755.4], base: 465, gridStep: 6,
  xTicks: [-2,-1,0,1,2,3], bins: binsFrom(txOffStart, txOffBin, txOffCounts), gap: 0, barFill: "#8d8d8d",
  density: txOffDensity, ref: 0, refTop: 362, refW: 1, refDash: "4,3", refOp: 0.6, delta18: true, labX: 740, labY: 490,
  stats: [{ x: 798, y: 364, anchor: "end", parts: ["σ", ["off", "sub"], " = 0.77‰"] }, { x: 798, y: 379, anchor: "end", parts: ["μ = 0.0‰"] }] });
inset({ bx: 834, by: 475, bw: 122, bh: 142, xd: [0, 100], xr: [870.5, 885], base: 586, gridStep: 7,
  xTicks: [-200,-100,0,100,200,300,400,500], bins: binsFrom(txAccStart, txAccBin, txAccCounts), gap: 0.4, barFill: "#9b9b9b",
  density: txAccDensity, ref: 0, refTop: 482, refW: 1, refDash: "4,3", refOp: 0.6, rot: true, labX: 891, labY: 612, hl: txAccHighlight,
  stats: [{ x: 890, y: 487, parts: ["σ", ["acc", "sub"], " = 128 d"] }, { x: 890, y: 502, parts: ["μ = +31 d"] }] });
</script></body></html>
